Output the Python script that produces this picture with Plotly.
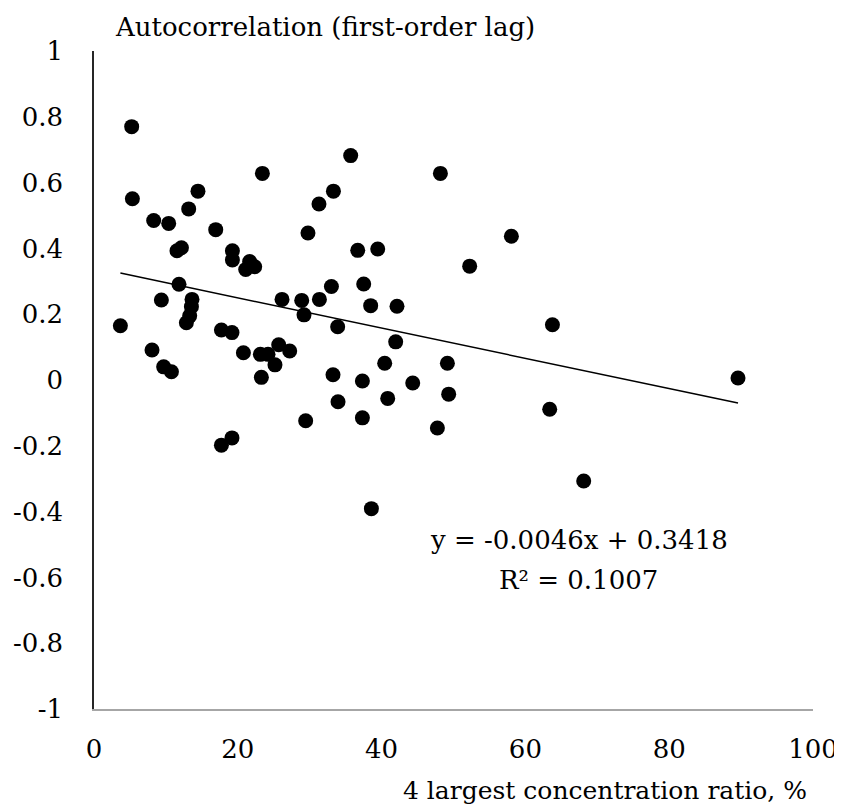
import plotly.graph_objects as go

# Data
concentration = [5.24, 5.34, 23.42, 14.46, 13.17, 8.30, 10.39, 16.93, 11.54, 12.16,
                 19.25, 19.25, 21.65, 22.35, 21.10, 11.82, 9.37, 13.63, 13.55, 13.31,
                 12.85, 3.67, 17.72, 19.19, 26.15, 28.89, 31.35, 33.02, 29.21, 31.29,
                 33.30, 29.76, 33.89, 8.07, 9.69, 10.77, 17.72, 19.19, 20.78, 23.14,
                 24.20, 25.69, 27.22, 25.17, 23.28, 29.44, 33.24, 33.94, 35.70, 48.18,
                 36.68, 39.46, 58.05, 52.25, 37.51, 38.48, 42.14, 41.96, 40.43, 49.15,
                 37.33, 44.33, 40.85, 49.33, 37.33, 47.76, 38.58, 63.76, 63.38, 68.11,
                 89.57]
autocorr = [0.770, 0.551, 0.628, 0.574, 0.520, 0.485, 0.476, 0.457, 0.393, 0.402,
            0.393, 0.365, 0.360, 0.344, 0.336, 0.291, 0.243, 0.245, 0.223, 0.195,
            0.174, 0.165, 0.152, 0.144, 0.245, 0.242, 0.245, 0.284, 0.198, 0.535,
            0.574, 0.447, 0.162, 0.091, 0.040, 0.025, -0.198, -0.176, 0.083, 0.078,
            0.078, 0.107, 0.088, 0.046, 0.008, -0.124, 0.016, -0.066, 0.682, 0.628,
            0.394, 0.398, 0.437, 0.346, 0.292, 0.226, 0.224, 0.116, 0.051, 0.051,
            -0.003, -0.009, -0.056, -0.043, -0.115, -0.146, -0.391, 0.168, -0.089, -0.307,
            0.006]

trend_slope = -0.0046
trend_intercept = 0.3418
equation_line = "y = -0.0046x + 0.3418"
r2_line = "R² = 0.1007"

x_tickvals = [0, 20, 40, 60, 80, 100]
x_ticktext = ["0", "20", "40", "60", "80", "100"]
y_tickvals = [1, 0.8, 0.6, 0.4, 0.2, 0, -0.2, -0.4, -0.6, -0.8, -1]
y_ticktext = ["1", "0.8", "0.6", "0.4", "0.2", "0", "-0.2", "-0.4", "-0.6", "-0.8", "-1"]

y_title = "Autocorrelation (first-order lag)"
x_title = "4 largest concentration ratio, %"

FONT = "DejaVu Serif"
FS = 26

fig = go.Figure()
fig.add_trace(go.Scatter(
    x=concentration, y=autocorr, mode="markers",
    marker=dict(color="black", size=15, line=dict(width=0)),
    showlegend=False, hoverinfo="skip", cliponaxis=False))

xmin, xmax = min(concentration), max(concentration)
fig.add_trace(go.Scatter(
    x=[xmin, xmax],
    y=[trend_slope * xmin + trend_intercept, trend_slope * xmax + trend_intercept],
    mode="lines", line=dict(color="black", width=1.5),
    showlegend=False, hoverinfo="skip"))

# page body has an 8px margin: shrink the figure so the plot area lands where the reference has it
fig.update_layout(
    width=834, height=799,
    margin=dict(l=86, r=29, t=43, b=98),
    paper_bgcolor="white", plot_bgcolor="white",
    font=dict(family=FONT, size=FS, color="black"),
    xaxis=dict(range=[0, 100], tickvals=x_tickvals, ticktext=x_ticktext,
               showgrid=False, zeroline=False, showline=True, automargin=False,
               linecolor="#a6a6a6", linewidth=1.5, ticks="",
               ticklabelstandoff=16, tickfont=dict(family=FONT, size=FS)),
    yaxis=dict(range=[-1, 1], tickvals=y_tickvals, ticktext=y_ticktext,
               showgrid=False, zeroline=False, showline=True, automargin=False,
               linecolor="#262626", linewidth=1.5, ticks="",
               ticklabelstandoff=24, tickfont=dict(family=FONT, size=FS)),
    annotations=[
        dict(text=y_title, xref="paper", yref="paper", x=0.027, y=1.037,
             xanchor="left", yanchor="middle", showarrow=False,
             font=dict(family=FONT, size=FS)),
        dict(text=x_title, xref="paper", yref="paper", x=0.994, y=-0.124,
             xanchor="right", yanchor="middle", showarrow=False,
             font=dict(family=FONT, size=25)),
        dict(text=equation_line, xref="x", yref="y", x=67.4, y=-0.486,
             xanchor="center", yanchor="middle", showarrow=False,
             font=dict(family=FONT, size=FS)),
        dict(text=r2_line, xref="x", yref="y", x=67.4, y=-0.608,
             xanchor="center", yanchor="middle", showarrow=False,
             font=dict(family=FONT, size=FS)),
    ],
)

fig.write_html("out.html")
